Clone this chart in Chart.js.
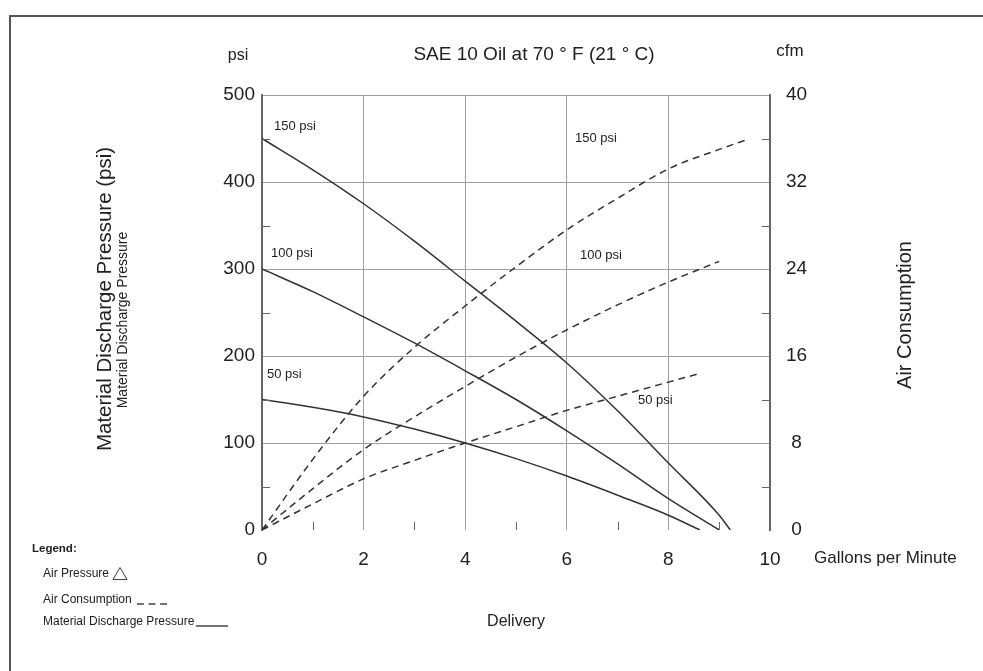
<!DOCTYPE html>
<html>
<head>
<meta charset="utf-8">
<script src="https://cdn.jsdelivr.net/npm/chart.js@4"></script>
<style>
  html, body { margin: 0; padding: 0; background: #fff; }
  canvas { display: block; }
</style>
</head>
<body>
<canvas id="pumpChart" width="983" height="671"></canvas>
<script>
// delivery (gpm) and material discharge pressure (psi), solid lines
const disch150X = [0, 1, 2, 3, 4, 5, 6, 7, 8, 9, 9.22];
const disch150 = [450, 414, 375, 332, 286, 240, 192, 137, 77, 17, 0];
const disch100X = [0, 1, 2, 3, 4, 5, 6, 7, 8, 9];
const disch100 = [300, 274, 245, 215, 183, 150, 114, 76, 36, 0];
const disch50X = [0, 1, 2, 3, 4, 5, 6, 7, 8, 8.62];
const disch50 = [150, 141, 130, 116, 100, 82, 62, 40, 17, 0];

// air consumption (cfm), dashed lines
const air150X = [0, 1, 2, 3, 4, 5, 6, 7, 8, 9, 9.55];
const air150 = [0, 6.5, 12.3, 16.8, 20.6, 24.2, 27.6, 30.5, 33.2, 35.0, 35.9];
const air100X = [0, 1, 2, 3, 4, 5, 6, 7, 8, 9];
const air100 = [0, 3.8, 7.4, 10.4, 13.2, 15.9, 18.4, 20.7, 22.8, 24.7];
const air50X = [0, 1, 2, 3, 4, 5, 6, 7, 8, 8.62];
const air50 = [0, 2.4, 4.7, 6.4, 8.0, 9.5, 11.0, 12.3, 13.6, 14.4];

const gpmTicks = [0, 2, 4, 6, 8, 10];
const psiTicks = [0, 100, 200, 300, 400, 500];
const cfmTicks = [0, 8, 16, 24, 32, 40];

const ink = "#333";
const gridGray = "#a0a0a0";
const axisGray = "#666";
const fontFamily = "'Liberation Sans', Arial, Helvetica, sans-serif";

function points(xs, ys) {
  return xs.map((x, i) => ({ x: x, y: ys[i] }));
}

function solid(data) {
  return {
    data: data, yAxisID: "y", borderColor: ink, borderWidth: 1.5,
    pointRadius: 0, cubicInterpolationMode: "monotone", fill: false
  };
}

function dashed(data) {
  return {
    data: data, yAxisID: "y2", borderColor: ink, borderWidth: 1.5,
    borderDash: [7, 5], pointRadius: 0, cubicInterpolationMode: "monotone", fill: false
  };
}

// text, minor ticks, legend and frame drawn on top of the chart
const decorations = {
  id: "decorations",
  afterDraw(chart) {
    const ctx = chart.ctx;
    const x = chart.scales.x;
    const y = chart.scales.y;
    const y2 = chart.scales.y2;
    const area = chart.chartArea;
    ctx.save();

    // outer frame
    ctx.strokeStyle = "#555";
    ctx.lineWidth = 2;
    ctx.strokeRect(10, 16, 1000, 700);

    // minor ticks
    ctx.strokeStyle = axisGray;
    ctx.lineWidth = 1;
    ctx.beginPath();
    [50, 150, 250, 350, 450].forEach((v) => {
      const py = Math.round(y.getPixelForValue(v)) + 0.5;
      ctx.moveTo(area.left, py);
      ctx.lineTo(area.left + 8, py);
    });
    [4, 12, 20, 28, 36].forEach((v) => {
      const py = Math.round(y2.getPixelForValue(v)) + 0.5;
      ctx.moveTo(area.right, py);
      ctx.lineTo(area.right - 8, py);
    });
    [1, 3, 5, 7, 9].forEach((v) => {
      const px = Math.round(x.getPixelForValue(v)) + 0.5;
      ctx.moveTo(px, area.bottom);
      ctx.lineTo(px, area.bottom - 8);
    });
    ctx.stroke();

    ctx.fillStyle = "#222";
    ctx.textBaseline = "middle";

    // titles
    ctx.font = "19px " + fontFamily;
    ctx.textAlign = "center";
    ctx.fillText("SAE 10 Oil at 70 ° F (21 ° C)", 534, 55);
    ctx.font = "16px " + fontFamily;
    ctx.fillText("psi", 238, 56);
    ctx.font = "17px " + fontFamily;
    ctx.fillText("cfm", 790, 51);
    ctx.font = "16px " + fontFamily;
    ctx.fillText("Delivery", 516, 622);
    ctx.textAlign = "left";
    ctx.font = "17px " + fontFamily;
    ctx.fillText("Gallons per Minute", 814, 558);

    // rotated axis titles
    ctx.textAlign = "center";
    ctx.save();
    ctx.translate(105, 299);
    ctx.rotate(-Math.PI / 2);
    ctx.font = "20.5px " + fontFamily;
    ctx.fillText("Material Discharge Pressure (psi)", 0, 0);
    ctx.restore();
    ctx.save();
    ctx.translate(123, 320);
    ctx.rotate(-Math.PI / 2);
    ctx.font = "14px " + fontFamily;
    ctx.fillText("Material Discharge Pressure", 0, 0);
    ctx.restore();
    ctx.save();
    ctx.translate(905, 315);
    ctx.rotate(-Math.PI / 2);
    ctx.font = "20px " + fontFamily;
    ctx.fillText("Air Consumption", 0, 0);
    ctx.restore();

    // curve labels
    ctx.font = "13px " + fontFamily;
    ctx.textAlign = "left";
    ctx.fillText("150 psi", 274, 126);
    ctx.fillText("100 psi", 271, 253);
    ctx.fillText("50 psi", 267, 374);
    ctx.fillText("150 psi", 575, 138);
    ctx.fillText("100 psi", 580, 255);
    ctx.fillText("50 psi", 638, 400);

    // legend
    ctx.font = "bold 11.5px " + fontFamily;
    ctx.fillText("Legend:", 32, 549);
    ctx.font = "12px " + fontFamily;
    ctx.fillText("Air Pressure", 43, 574);
    ctx.fillText("Air Consumption", 43, 600);
    ctx.fillText("Material Discharge Pressure", 43, 622);
    ctx.strokeStyle = "#444";
    ctx.lineWidth = 1;
    ctx.beginPath();
    ctx.moveTo(113, 579.5);
    ctx.lineTo(127, 579.5);
    ctx.lineTo(120, 567.5);
    ctx.closePath();
    ctx.stroke();
    ctx.lineWidth = 1.5;
    ctx.setLineDash([7, 4.5]);
    ctx.beginPath();
    ctx.moveTo(137, 604);
    ctx.lineTo(167, 604);
    ctx.stroke();
    ctx.setLineDash([]);
    ctx.beginPath();
    ctx.moveTo(196, 626);
    ctx.lineTo(228, 626);
    ctx.stroke();

    ctx.restore();
  }
};

new Chart(document.getElementById("pumpChart"), {
  type: "line",
  data: {
    datasets: [
      solid(points(disch150X, disch150)),
      solid(points(disch100X, disch100)),
      solid(points(disch50X, disch50)),
      dashed(points(air150X, air150)),
      dashed(points(air100X, air100)),
      dashed(points(air50X, air50))
    ]
  },
  options: {
    responsive: false,
    animation: false,
    devicePixelRatio: 1,
    layout: { padding: { top: 95, left: 0, right: 0, bottom: 0 } },
    plugins: { legend: { display: false }, title: { display: false }, tooltip: { enabled: false } },
    scales: {
      x: {
        type: "linear", min: 0, max: 10,
        afterFit: (s) => { s.height = 141; },
        afterBuildTicks: (s) => { s.ticks = gpmTicks.map((v) => ({ value: v })); },
        grid: { color: gridGray, lineWidth: 1, drawTicks: false },
        border: { display: false },
        ticks: { padding: 18, color: "#222", font: { size: 19, family: fontFamily } }
      },
      y: {
        type: "linear", position: "left", min: 0, max: 500,
        afterFit: (s) => { s.width = 262; },
        afterBuildTicks: (s) => { s.ticks = psiTicks.map((v) => ({ value: v })); },
        grid: {
          color: (c) => (c.tick && c.tick.value === 0 ? "rgba(0,0,0,0)" : gridGray),
          lineWidth: 1, drawTicks: false
        },
        border: { color: axisGray, width: 2 },
        ticks: { padding: 7, color: "#222", font: { size: 19, family: fontFamily } }
      },
      y2: {
        type: "linear", position: "right", min: 0, max: 40,
        afterFit: (s) => { s.width = 213; },
        afterBuildTicks: (s) => { s.ticks = cfmTicks.map((v) => ({ value: v })); },
        grid: { display: false, drawTicks: false },
        border: { color: axisGray, width: 2 },
        ticks: { padding: 16, crossAlign: "center", color: "#222", font: { size: 19, family: fontFamily } }
      }
    }
  },
  plugins: [decorations]
});
</script>
</body>
</html>
